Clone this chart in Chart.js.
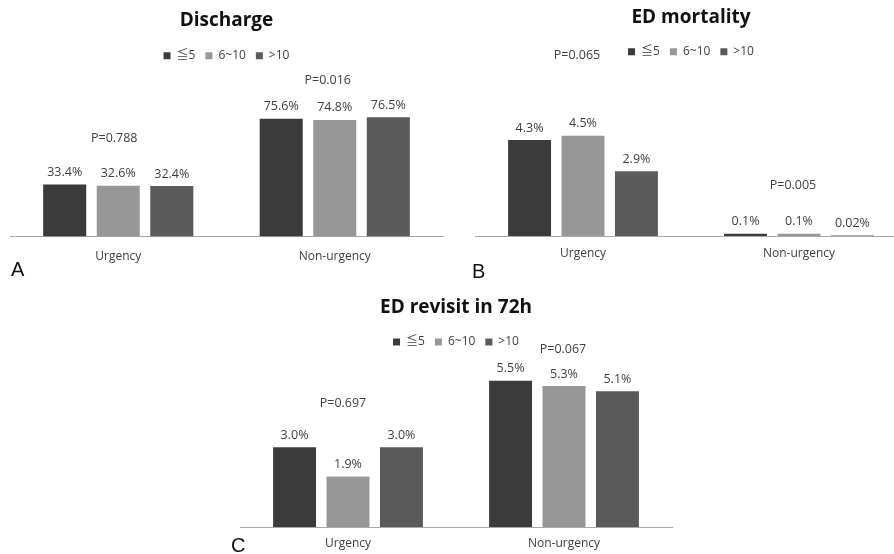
<!DOCTYPE html>
<html>
<head>
<meta charset="utf-8">
<script src="https://cdn.jsdelivr.net/npm/chart.js@4.4.1/dist/chart.umd.min.js"></script>
<style>
  html, body { margin: 0; padding: 0; width: 894px; height: 554px; overflow: hidden; background: #ffffff; }
  canvas { position: absolute; }
  .letter { position: absolute; font-family: "Liberation Sans", Arial, sans-serif; font-size: 20px; line-height: 20px; color: #111; z-index: 5; }
</style>
</head>
<body>
<canvas id="cA" width="453" height="280" style="left:0px;top:0px"></canvas>
<canvas id="cB" width="452" height="280" style="left:465px;top:0px"></canvas>
<canvas id="cC" width="452" height="280" style="left:230px;top:285px"></canvas>
<div class="letter" style="left:11px;top:259px">A</div>
<div class="letter" style="left:472px;top:261px">B</div>
<div class="letter" style="left:231px;top:535px">C</div>
<script>
// ---------- data ----------
const categories = ['Urgency', 'Non-urgency'];
const groupLabels = ['≦5', '6~10', '>10'];

const dischargeLe5   = [33.4, 75.6];
const discharge6to10 = [32.6, 74.8];
const dischargeGt10  = [32.4, 76.5];
const dischargeP     = ['P=0.788', 'P=0.016'];

const mortalityLe5   = [4.3, 0.1];
const mortality6to10 = [4.5, 0.1];
const mortalityGt10  = [2.9, 0.02];
const mortalityP     = ['P=0.065', 'P=0.005'];

const revisitLe5     = [3.0, 5.5];
const revisit6to10   = [1.9, 5.3];
const revisitGt10    = [3.0, 5.1];
const revisitP       = ['P=0.697', 'P=0.067'];

// ---------- styling ----------
const FONT = '"Open Sans", "Noto Sans CJK JP", sans-serif';
const TEXT = '#404040';
const barColors = ['#3b3b3b', '#979797', '#5a5a5a'];

function fmt(v) { return (v < 0.1 ? v.toFixed(2) : v.toFixed(1)) + '%'; }

const annotate = {
  id: 'annotate',
  afterDatasetsDraw(chart, args, opts) {
    const ctx = chart.ctx;
    ctx.save();
    ctx.font = '12.5px ' + FONT;
    ctx.fillStyle = TEXT;
    ctx.textAlign = 'center';
    ctx.textBaseline = 'middle';
    chart.data.datasets.forEach((ds, di) => {
      chart.getDatasetMeta(di).data.forEach((bar, i) => {
        ctx.fillText(fmt(ds.data[i]), bar.x, bar.y - 12);
      });
    });
    const xs = chart.scales.x;
    opts.texts.forEach((t, i) => {
      const top = Math.min(...chart.data.datasets.map((ds, di) => chart.getDatasetMeta(di).data[i].y));
      ctx.fillText(t, xs.getPixelForValue(i) + opts.dx[i], top - opts.rise[i]);
    });
    ctx.restore();
  }
};

function makeChart(id, title, series, pTexts, cfg) {
  const datasets = series.map((d, k) => ({
    label: groupLabels[k],
    data: d,
    backgroundColor: barColors[k],
    borderColor: barColors[k],
    borderWidth: 0,
    categoryPercentage: 0.742,
    barPercentage: 0.804
  }));
  const chart = new Chart(document.getElementById(id), {
    type: 'bar',
    data: { labels: categories, datasets },
    plugins: [annotate],
    options: {
      responsive: false,
      animation: false,
      events: [],
      layout: { padding: { left: 10, right: 10, top: 0, bottom: cfg.padBottom } },
      scales: {
        x: {
          grid: { display: false, drawTicks: false },
          border: { display: true, color: '#a8a8a8', width: 1 },
          ticks: { color: TEXT, font: { family: FONT, size: 12 }, padding: cfg.tickPad }
        },
        y: { display: false, min: 0, max: 100 }
      },
      plugins: {
        title: {
          display: true, text: title, color: '#111',
          font: { family: FONT, size: 19, weight: 'bold' },
          padding: { top: cfg.titleTop, bottom: cfg.titleBottom }
        },
        legend: {
          position: 'top',
          labels: { boxWidth: 7, boxHeight: 7, padding: 10, color: TEXT, font: { family: FONT, size: 12 } }
        },
        tooltip: { enabled: false },
        annotate: { texts: pTexts, dx: cfg.dx, rise: cfg.rise }
      }
    }
  });
  const h = chart.chartArea.bottom - chart.chartArea.top;
  chart.options.scales.y.max = h / cfg.pxPerUnit;
  chart.update('none');
  return chart;
}

makeChart('cA', 'Discharge', [dischargeLe5, discharge6to10, dischargeGt10], dischargeP,
  { padBottom: 3, tickPad: 13, titleTop: 9, titleBottom: 8, pxPerUnit: 1.56, dx: [-4, -7], rise: [46, 37] });

makeChart('cB', 'ED mortality', [mortalityLe5, mortality6to10, mortalityGt10], mortalityP,
  { padBottom: 9.6, tickPad: 10, titleTop: 6, titleBottom: 7, pxPerUnit: 22.3, dx: [-6, -6], rise: [80, 48] });

makeChart('cC', 'ED revisit in 72h', [revisitLe5, revisit6to10, revisitGt10], revisitP,
  { padBottom: 5.6, tickPad: 9, titleTop: 11.6, titleBottom: 6.6, pxPerUnit: 26.6, dx: [-5, -1], rise: [44, 31] });
</script>
</body>
</html>
